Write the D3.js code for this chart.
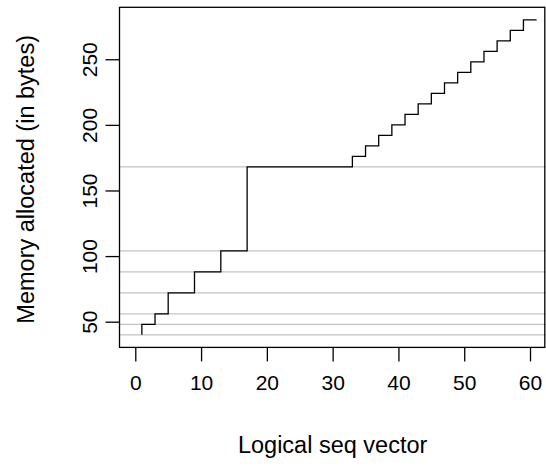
<!DOCTYPE html>
<html>
<head>
<meta charset="utf-8">
<script src="https://cdn.jsdelivr.net/npm/d3@7"></script>
<style>
  html, body { margin: 0; padding: 0; background: #fff; }
  svg text { font-family: "Liberation Sans", Arial, sans-serif; fill: #000; }
</style>
</head>
<body>
<svg id="chart" width="546" height="468"></svg>
<script>
// Vector lengths 0..60 (plotted at index 1..61)
const lengths = d3.range(0, 61);
// Memory allocated (bytes) for a logical vector of each length
const sizes = [
  40,
  48, 48,
  56, 56,
  72, 72, 72, 72,
  88, 88, 88, 88,
  104, 104, 104, 104,
  168, 168, 168, 168, 168, 168, 168, 168, 168, 168, 168, 168, 168, 168, 168, 168,
  176, 176, 184, 184, 192, 192, 200, 200, 208, 208, 216, 216, 224, 224,
  232, 232, 240, 240, 248, 248, 256, 256, 264, 264, 272, 272, 280, 280
];
// Reference grey lines (small-vector allocation classes)
const refLines = [40, 48, 56, 72, 88, 104, 168];
const xTicks = [0, 10, 20, 30, 40, 50, 60];
const yTicks = [50, 100, 150, 200, 250];
const xLabel = "Logical seq vector";
const yLabel = "Memory allocated (in bytes)";

const svg = d3.select("#chart");
const fs = 21;     // tick labels
const fsLab = 23.5; // axis titles

const x = d3.scaleLinear().domain([-2.4, 62.4]).range([119.5, 545.8]);
const y = d3.scaleLinear().domain([30.4, 289.6]).range([347.4, 7.3]);

const [x0, x1] = x.range();
const [yb, yt] = y.range();

// grey reference lines
svg.append("g").selectAll("line").data(refLines).join("line")
  .attr("x1", x0).attr("x2", x1)
  .attr("y1", d => y(d)).attr("y2", d => y(d))
  .attr("stroke", "#c4c4c4").attr("stroke-width", 1.3);

// step line (type "S")
const line = d3.line()
  .x((d, i) => x(lengths[i] + 1))
  .y(d => y(d))
  .curve(d3.curveStepBefore);
svg.append("path").datum(sizes)
  .attr("d", line)
  .attr("fill", "none").attr("stroke", "#000").attr("stroke-width", 1.3);

// box
svg.append("rect")
  .attr("x", x0).attr("y", yt)
  .attr("width", x1 - x0 - 1).attr("height", yb - yt)
  .attr("fill", "none").attr("stroke", "#000").attr("stroke-width", 1.3);

// x axis
const xAxis = d3.axisBottom(x).tickValues(xTicks).tickSize(14).tickPadding(14)
  .tickFormat(d3.format("d"));
const gx = svg.append("g").attr("transform", `translate(0,${yb})`).call(xAxis);
gx.select(".domain").remove();
gx.selectAll(".tick line").attr("stroke", "#000").attr("stroke-width", 1.3);
gx.selectAll(".tick text").attr("font-size", fs).attr("font-family", "Liberation Sans, Arial, sans-serif").attr("fill", "#000");

// y axis
const yAxis = d3.axisLeft(y).tickValues(yTicks).tickSize(14).tickPadding(0)
  .tickFormat(d3.format("d"));
const gy = svg.append("g").attr("transform", `translate(${x0},0)`).call(yAxis);
gy.select(".domain").remove();
gy.selectAll(".tick line").attr("stroke", "#000").attr("stroke-width", 1.3);
gy.selectAll(".tick text")
  .attr("font-size", fs).attr("font-family", "Liberation Sans, Arial, sans-serif").attr("fill", "#000")
  .attr("x", null).attr("dy", null)
  .attr("text-anchor", "middle")
  .attr("transform", "translate(-30,0) rotate(-90)")
  .attr("dy", "0.35em");

// axis titles
svg.append("text")
  .attr("x", (x0 + x1) / 2).attr("y", 453)
  .attr("text-anchor", "middle").attr("font-size", fsLab)
  .text(xLabel);
svg.append("text")
  .attr("transform", `translate(34,${(yt + yb) / 2 + 2}) rotate(-90)`)
  .attr("text-anchor", "middle").attr("font-size", fsLab)
  .text(yLabel);
</script>
</body>
</html>
